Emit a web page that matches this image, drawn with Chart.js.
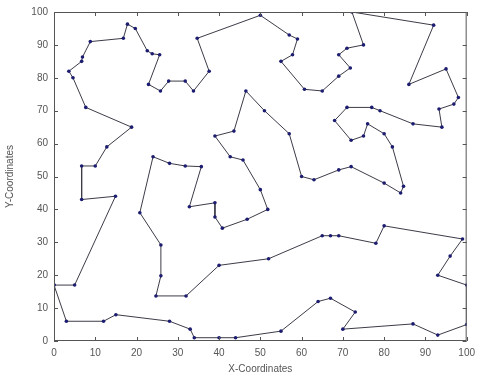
<!DOCTYPE html>
<html>
<head>
<meta charset="utf-8">
<script src="https://cdn.jsdelivr.net/npm/chart.js@4"></script>
<style>
  html, body { margin: 0; padding: 0; background: #fff; }
  #wrap { width: 481px; height: 379px; }
</style>
</head>
<body>
<div id="wrap"><canvas id="tour"></canvas></div>
<script>
// tour city coordinates, in visiting order
var tourX = [0, 3, 12, 15, 28, 33, 34, 40, 44, 55, 64, 67, 73, 70, 87, 93, 100,
  100, 93, 96, 99, 80, 78, 69, 67, 65, 52, 40, 32, 24.7, 25.9, 25.9, 20.8,
  24, 28, 31.8, 35.7, 32.8, 39, 39, 40.8, 46.8, 51.8, 50, 45.8, 42.7, 39, 43.6,
  46.5, 51, 57, 60, 63, 69, 72, 80, 84, 84.7, 82, 80, 76, 75, 72, 68,
  71, 77, 79, 87, 94, 93.3, 96.9, 98, 95, 86, 92, 72.2, 75, 71, 69, 71.8,
  69, 65, 60.7, 55, 57.8, 59, 57, 50, 34.7, 37.6, 33.8, 31.8, 27.8, 25.8, 22.9,
  25.6, 23.8, 22.6, 19.7, 17.8, 16.8, 8.8, 6.9, 6.7, 3.6, 4.6, 7.7, 18.8, 12.8,
  10, 6.7, 6.7, 14.9, 5, 0];
var tourY = [17, 6, 6, 8, 6, 3.6, 1, 1, 1, 3, 12, 13, 8.8, 3.6, 5.2, 1.8, 5,
  17, 20, 25.8, 31, 35, 29.7, 32, 32, 32, 25, 23, 13.7, 13.7, 19.8, 29.2, 39,
  56, 54, 53.2, 53, 40.8, 42, 37.7, 34.3, 37, 40, 46, 55, 56, 62.3, 63.8,
  76, 70, 63, 50, 49, 52, 53, 48, 45, 47, 59, 63, 66, 62.3, 61, 67,
  71, 71, 70, 66, 65, 70.5, 72, 74, 82.7, 78, 96, 100, 90, 89, 87, 83,
  80.5, 76, 76.5, 85, 87, 91.8, 93, 99, 92, 82, 76, 79, 79, 76, 78,
  87, 87.3, 88.2, 95, 96.3, 92, 91, 86.3, 85, 82, 80, 71, 65, 59,
  53.2, 53.2, 43, 44, 17, 17];

var tickVals = [0, 10, 20, 30, 40, 50, 60, 70, 80, 90, 100];

var pts = tourX.map(function (x, i) { return { x: x, y: tourY[i] }; });

// matlab style box with inward ticks on all four sides
var boxTicks = {
  id: 'boxTicks',
  afterDraw: function (chart) {
    var c = chart.ctx, a = chart.chartArea;
    var sx = chart.scales.x, sy = chart.scales.y;
    c.save();
    c.strokeStyle = '#555';
    c.lineWidth = 1;
    c.strokeRect(a.left + 0.5, a.top + 0.5, a.right - a.left - 1, a.bottom - a.top - 1);
    c.beginPath();
    tickVals.forEach(function (v) {
      var px = Math.round(sx.getPixelForValue(v)) + 0.5;
      c.moveTo(px, a.bottom); c.lineTo(px, a.bottom - 4);
      c.moveTo(px, a.top); c.lineTo(px, a.top + 4);
      var py = Math.round(sy.getPixelForValue(v)) + 0.5;
      c.moveTo(a.left, py); c.lineTo(a.left + 4, py);
      c.moveTo(a.right, py); c.lineTo(a.right - 4, py);
    });
    c.stroke();
    c.restore();
  }
};

var tickFont = { family: 'Liberation Sans, Arial, sans-serif', size: 10 };

new Chart(document.getElementById('tour'), {
  type: 'scatter',
  data: {
    datasets: [{
      data: pts,
      showLine: true,
      borderColor: '#3c3c48',
      borderWidth: 1,
      pointRadius: 1.8,
      pointBackgroundColor: '#1c1c70',
      pointBorderColor: '#1c1c70',
      pointBorderWidth: 0
    }]
  },
  options: {
    responsive: true,
    maintainAspectRatio: false,
    animation: false,
    layout: { padding: { top: 12, right: 10, left: 0, bottom: 0 } },
    plugins: { legend: { display: false }, tooltip: { enabled: false } },
    scales: {
      x: {
        type: 'linear', min: 0, max: 100,
        afterBuildTicks: function (s) { s.ticks = tickVals.map(function (v) { return { value: v }; }); },
        afterFit: function (s) { s.height = 38; },
        grid: { display: false, drawTicks: false },
        border: { display: false },
        ticks: { color: '#555', font: tickFont, padding: 6, maxRotation: 0 },
        title: { display: true, text: 'X-Coordinates', color: '#555', font: tickFont, padding: { top: 1, bottom: 4 } }
      },
      y: {
        type: 'linear', min: 0, max: 100,
        afterBuildTicks: function (s) { s.ticks = tickVals.map(function (v) { return { value: v }; }); },
        afterFit: function (s) { s.width = 54; },
        grid: { display: false, drawTicks: false },
        border: { display: false },
        ticks: { color: '#555', font: tickFont, padding: 6 },
        title: { display: true, text: 'Y-Coordinates', color: '#555', font: tickFont, padding: { top: 4, bottom: 0 } }
      }
    }
  },
  plugins: [boxTicks]
});
</script>
</body>
</html>
